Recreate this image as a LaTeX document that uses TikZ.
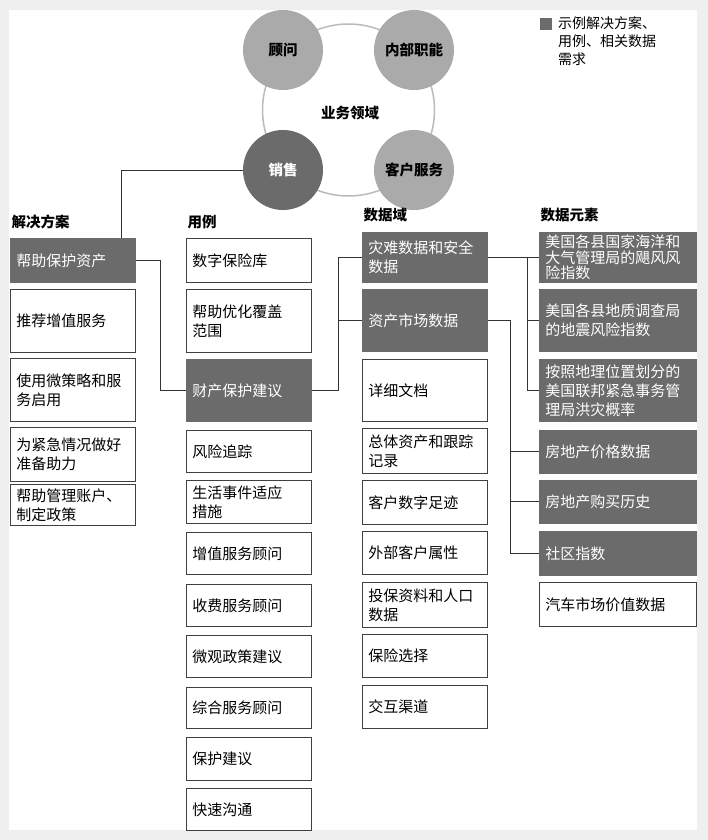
\documentclass[tikz,border=0pt]{standalone}
\usepackage{fontspec}
\setmainfont{Noto Sans CJK SC}
\definecolor{dk}{HTML}{6B6B6B}
\definecolor{lt}{HTML}{AAAAAA}
\definecolor{bg}{HTML}{EFEFEF}
\newcommand{\bx}[7]{\node[#2,anchor=north west,minimum width=#6pt,minimum height=#5pt-#4pt,text width=#6pt-12pt] (#1) at (#3,#4) {#7};}
\begin{document}
\begin{tikzpicture}[x=1pt,y=-1pt,
  wb/.style={draw=black!75,line width=0.8pt,fill=white,align=left,inner xsep=6pt,inner ysep=1pt,font=\fontsize{15}{19}\selectfont},
  db/.style={wb,fill=dk,draw=dk,text=white},
  tight/.style={font=\fontsize{15}{15.5}\selectfont},
  hd/.style={anchor=west,font=\bfseries\fontsize{14.5}{16}\selectfont},
  cc/.style={circle,minimum size=80pt,inner sep=0pt,font=\bfseries\fontsize{14.5}{16}\selectfont},
  ln/.style={draw=black!80,line width=0.9pt}]
\fill[bg] (0,0) rectangle (708,840);
\fill[white] (9,10) rectangle (697,830);
\useasboundingbox (0,0) rectangle (708,840);
% ring
\draw[lt!80,line width=1.5pt] (348.5,110) circle (86);
\node[font=\bfseries\fontsize{14.5}{16}\selectfont] (dom) at (350,113) {业务领域};
\node[cc,fill=lt] (gw) at (283,50) {顾问};
\node[cc,fill=lt] (nb) at (414,50) {内部职能};
\node[cc,fill=dk,text=white] (xs) at (283,170) {销售};
\node[cc,fill=lt] (kh) at (414,170) {客户服务};
% legend
\fill[dk] (540,18) rectangle (552,30);
\node[anchor=north west,align=left,inner sep=0pt,font=\fontsize{14}{18}\selectfont] (lg) at (558,16) {示例解决方案、\\用例、相关数据\\需求};
% headers
\node[hd] (h1) at (8,222) {解决方案};
\node[hd] (h2) at (184,222) {用例};
\node[hd] (h3) at (360,215) {数据域};
\node[hd] (h4) at (537,215) {数据元素};
% col1
\bx{a1}{db}{10}{238}{282}{125}{帮助保护资产}
\bx{a2}{wb}{10}{289}{352}{125}{推荐增值服务}
\bx{a3}{wb}{10}{358}{421}{125}{使用微策略和服\\务启用}
\bx{a4}{wb}{10}{427}{481}{125}{为紧急情况做好\\准备助力}
\bx{a5}{wb}{10}{484}{525}{125}{帮助管理账户、\\制定政策}
% col2
\bx{b1}{wb}{186}{238}{282}{125}{数字保险库}
\bx{b2}{wb}{186}{289}{352}{125}{帮助优化覆盖\\范围}
\bx{b3}{db}{186}{359}{421}{125}{财产保护建议}
\bx{b4}{wb}{186}{430}{472}{125}{风险追踪}
\bx{b5}{wb}{186}{480}{523}{125}{生活事件适应\\措施}
\bx{b6}{wb}{186}{532}{574}{125}{增值服务顾问}
\bx{b7}{wb}{186}{584}{626}{125}{收费服务顾问}
\bx{b8}{wb}{186}{635}{677}{125}{微观政策建议}
\bx{b9}{wb}{186}{687}{728}{125}{综合服务顾问}
\bx{b10}{wb}{186}{737}{780}{125}{保护建议}
\bx{b11}{wb}{186}{788}{830}{125}{快速沟通}
% col3
\bx{c1}{db}{362}{232}{282}{125}{灾难数据和安全\\数据}
\bx{c2}{db}{362}{289}{351}{125}{资产市场数据}
\bx{c3}{wb}{362}{359}{421}{125}{详细文档}
\bx{c4}{wb}{362}{428}{473}{125}{总体资产和跟踪\\记录}
\bx{c5}{wb}{362}{480}{524}{125}{客户数字足迹}
\bx{c6}{wb}{362}{531}{574}{125}{外部客户属性}
\bx{c7}{wb}{362}{582}{627}{125}{投保资料和人口\\数据}
\bx{c8}{wb}{362}{634}{677}{125}{保险选择}
\bx{c9}{wb}{362}{685}{728}{125}{交互渠道}
% col4
\bx{d1}{db,tight}{539}{232}{282}{157}{美国各县国家海洋和\\大气管理局的飓风风\\险指数}
\bx{d2}{db}{539}{289}{351}{157}{美国各县地质调查局\\的地震风险指数}
\bx{d3}{db}{539}{359}{421}{157}{按照地理位置划分的\\美国联邦紧急事务管\\理局洪灾概率}
\bx{d4}{db}{539}{430}{473}{157}{房地产价格数据}
\bx{d5}{db}{539}{480}{523}{157}{房地产购买历史}
\bx{d6}{db}{539}{531}{575}{157}{社区指数}
\bx{d7}{wb}{539}{582}{626}{157}{汽车市场价值数据}
% connectors
\draw[ln] (xs.west) -| (a1.north -| 121,0);
\draw[ln] (a1.east) -- ++(25,0) |- (b3.west);
\draw[ln] (b3.east) -- ++(27,0) |- (c1.west);
\draw[ln] (b3.east -| 338,0) |- (c2.west);
\draw[ln] (c1.east) -- (d1.west);
\draw[ln] (c1.east -| 527,0) |- (d2.west);
\draw[ln] (c1.east -| 527,0) |- (d3.west);
\draw[ln] (c2.east) -- ++(23,0) |- (d4.west);
\draw[ln] (c2.east -| 510,0) |- (d5.west);
\draw[ln] (c2.east -| 510,0) |- (d6.west);
\end{tikzpicture}
\end{document}
